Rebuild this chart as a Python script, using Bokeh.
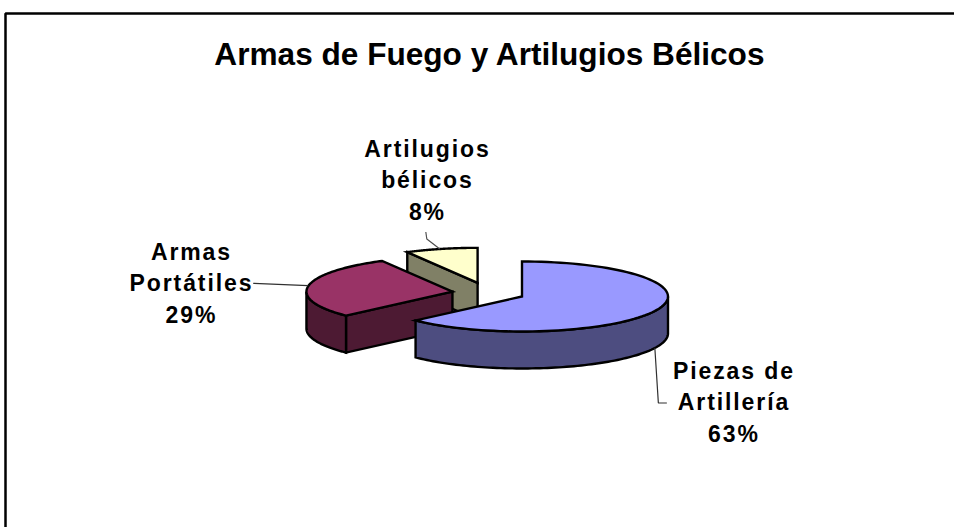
import numpy as np
from bokeh.plotting import figure
from bokeh.models import Range1d
from bokeh.core.properties import value
from bokeh.embed import file_html
from bokeh.resources import INLINE

title = "Armas de Fuego y Artilugios Bélicos"
slices = ["Piezas de\nArtillería", "Armas\nPortátiles", "Artilugios\nbélicos"]
shares = [63, 29, 8]
explode = [0.25, 0.25, 0.30]
top_colors = ["#9999FF", "#993366", "#FFFFCC"]
side_colors = ["#4D4D80", "#4D1A33", "#808066"]

W, H = 954, 527
CX, CY, RX, RY, DEPTH = 488.0, 292.5, 146.0, 35.0, 37.0
FONT = "Liberation Sans"
SPACING = 1.9

def layer(**kw):
    f = figure(width=W, height=H, output_backend="svg", toolbar_location=None,
               x_range=Range1d(0, W), y_range=Range1d(H, 0), min_border=0,
               outline_line_color=None, **kw)
    f.axis.visible = False
    f.grid.visible = False
    return f

p = layer(background_fill_color="white", border_fill_color="white")
p.styles = {"position": "absolute", "left": "0px", "top": "0px"}

# labels live on a transparent layer with wider letter spacing, as in the reference
q = layer(background_fill_color=None, border_fill_color=None)
q.styles = {"position": "absolute", "left": "0px", "top": "0px", "letter-spacing": f"{SPACING}px"}

# chart frame
p.line([5, 5, W], [H, 13, 13], line_color="#000000", line_width=2.5)

p.text([489.5], [53], text=[title], text_font=value(FONT), text_font_style="bold",
       text_font_size="31.6px", text_align="center", text_baseline="middle", text_color="black")

bounds = np.concatenate([[0], np.cumsum(shares)]) / sum(shares) * 2 * np.pi
geo = []
for i in range(3):
    a0, a1 = bounds[i], bounds[i + 1]
    mid = (a0 + a1) / 2
    cx = CX + explode[i] * RX * np.sin(mid)
    cy = CY - explode[i] * RY * np.cos(mid)
    geo.append((a0, a1, cx, cy))

def rim(cx, cy, a0, a1, n=90):
    t = np.linspace(a0, a1, n)
    return cx + RX * np.sin(t), cy - RY * np.cos(t)

def poly(xs, ys, color):
    p.patch(list(xs), list(ys), fill_color=color, line_color="black", line_width=2.4, line_join="miter")

for i in [2, 1, 0]:
    a0, a1, cx, cy = geo[i]
    # cut face turned towards the viewer
    if i in (1, 2):
        ex, ey = rim(cx, cy, a0, a0, 1)
        poly([cx, ex[0], ex[0], cx], [cy, ey[0], ey[0] + DEPTH, cy + DEPTH], side_colors[i])
    # outer wall: visible where the rim faces down
    w0, w1 = max(a0, np.pi / 2), min(a1, 3 * np.pi / 2)
    if w1 > w0:
        xs, ys = rim(cx, cy, w0, w1)
        poly(np.concatenate([xs, xs[::-1]]), np.concatenate([ys, ys[::-1] + DEPTH]), side_colors[i])
    xs, ys = rim(cx, cy, a0, a1)
    poly(np.concatenate([[cx], xs]), np.concatenate([[cy], ys]), top_colors[i])

# leader lines, anchored at each slice
ax0, ay0 = rim(geo[0][2], geo[0][3], np.radians(114.5), np.radians(114.5), 1)
ax0, ay0 = ax0[0], ay0[0] + DEPTH
p.line([ax0, ax0 + 3.5, ax0 + 12], [ay0, ay0 + 55, ay0 + 55], line_color="#303030", line_width=1.2)
ax1, ay1 = rim(geo[1][2], geo[1][3], np.radians(279), np.radians(279), 1)
p.line([ax1[0], ax1[0] - 55], [ay1[0] - 0.5, ay1[0] - 2.8], line_color="#303030", line_width=1.2)
ax2, ay2 = rim(geo[2][2], geo[2][3], np.radians(345), np.radians(345), 1)
p.line([ax2[0], ax2[0] - 13, ax2[0] - 14], [ay2[0], ay2[0] - 10, ay2[0] - 17], line_color="#505050", line_width=1.2)

# labels: centre of the first line, then line by line
LAB = 23
LH = 31.7
places = [(732.5, 370), (190, 251), (426, 148)]
for (lx, ly), name, s in zip(places, slices, shares):
    lines = name.split("\n") + [f"{s}%"]
    for k, t in enumerate(lines):
        # Bokeh centres on the unspaced width, so take the added spacing back off
        q.text([lx - (len(t) - 1) * SPACING / 2], [ly + k * LH], text=[t], text_font=value(FONT),
               text_font_style="bold", text_font_size=f"{LAB}px", text_align="center",
               text_baseline="middle", text_color="black")

open("out.html", "w").write(file_html([p, q], INLINE))
